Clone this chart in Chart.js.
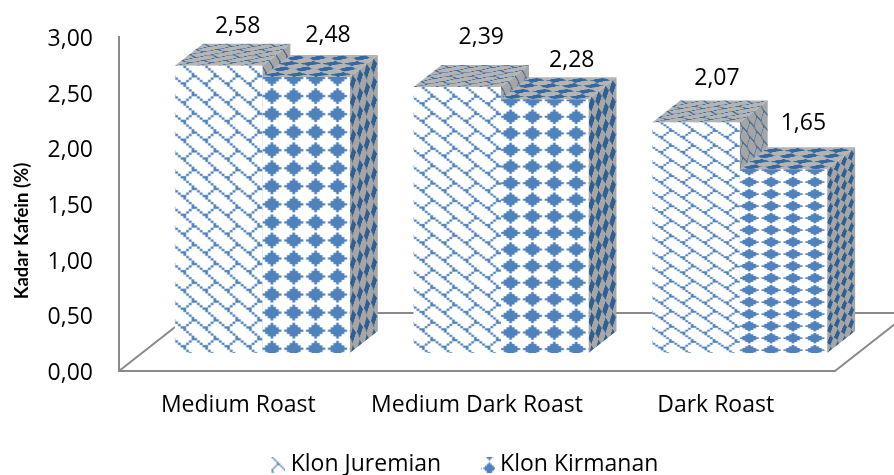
<!DOCTYPE html>
<html>
<head>
<meta charset="utf-8">
<style>
  html, body { margin: 0; padding: 0; background: #fff; }
  #wrap { width: 894px; height: 475px; }
</style>
<script src="https://cdn.jsdelivr.net/npm/chart.js@4"></script>
</head>
<body>
<div id="wrap"><canvas id="chart" width="894" height="475"></canvas></div>
<script>
const categories = ['Medium Roast', 'Medium Dark Roast', 'Dark Roast'];
const juremian = [2.58, 2.39, 2.07];
const kirmanan = [2.48, 2.28, 1.65];
const yTicks = [0, 0.5, 1, 1.5, 2, 2.5, 3];
const yTitle = 'Kadar Kafein (%)';

// 8x8 office fill patterns
const brickBits = [0x80, 0x40, 0x20, 0x10, 0x18, 0x24, 0x42, 0x81];
const diamondBits = [0x10, 0x38, 0x7c, 0xfe, 0x7c, 0x38, 0x10, 0x00];

// 3d look
const shiftX = 24, shiftY = -18;      // bars stand this far behind the front of the floor
const depthX = 28, depthY = -22;      // depth of a bar
const floorX = 74, floorY = -58;      // depth of the floor
const tilesWide = 4, tilesHigh = 15.3, tilesDeep = 4;
const phase = [[0.39, 0], [0, -0.375]]; // where the first tile starts on the front of a bar

const fontName = 'Open Sans';
const fontSize = 23;

// label nudges, from the top middle of each bar
const labelNudge = [
  [[43, -57], [48, -67], [45, -62]],
  [[46, -59], [51, -57], [44, -64]]
];

function makeTile(bits, fg, bg) {
  const k = 8;
  const size = 8 * k;
  const sheet = document.createElement('canvas');
  sheet.width = sheet.height = size * 3;
  const g = sheet.getContext('2d');
  g.fillStyle = bg;
  g.fillRect(0, 0, size * 3, size * 3);
  g.fillStyle = fg;
  for (let ox = 0; ox < 3; ox++) {
    for (let oy = 0; oy < 3; oy++) {
      bits.forEach((row, y) => {
        for (let x = 0; x < 8; x++) {
          if (row & (0x80 >> x)) g.fillRect(ox * size + x * k, oy * size + y * k, k, k);
        }
      });
    }
  }
  // soften it a little, then keep the middle tile
  const c = document.createElement('canvas');
  c.width = c.height = size;
  const b = c.getContext('2d');
  b.filter = 'blur(1.5px)';
  b.drawImage(sheet, -size, -size);
  return c;
}

const canvas = document.getElementById('chart');
const ctx = canvas.getContext('2d');

const tiles = [
  {
    front: makeTile(brickBits, '#4f81bd', '#ffffff'),
    top: makeTile(brickBits, '#3f6c9e', '#b4b4b4'),
    side: makeTile(brickBits, '#3f6a99', '#a6a6a6')
  },
  {
    front: makeTile(diamondBits, '#4f81bd', '#ffffff'),
    top: makeTile(diamondBits, '#35689f', '#b4b4b4'),
    side: makeTile(diamondBits, '#2f5f92', '#a6a6a6')
  }
];

function patternFrom(tile, a, b, c, d, e, f, target) {
  const p = (target || ctx).createPattern(tile, 'repeat');
  const s = 1 / tile.width;
  p.setTransform(new DOMMatrix([a * s, b * s, c * s, d * s, e, f]));
  return p;
}

function frontPattern(context) {
  const chart = context.chart;
  const x = chart.scales.x, y = chart.scales.y;
  const ds = context.datasetIndex, i = context.dataIndex;
  const value = context.dataset.data[i];
  const bw = x.width / categories.length * 0.733 / 2;
  const left = x.getPixelForValue(i) + (ds - 1) * bw;
  const top = y.getPixelForValue(value);
  const h = y.getPixelForValue(0) - top;
  const tw = bw / tilesWide, th = h / tilesHigh;
  return patternFrom(tiles[ds].front, tw, 0, 0, th, left + phase[ds][0] * tw, top + phase[ds][1] * th);
}

function fillPoly(c, pts) {
  c.beginPath();
  pts.forEach((p, i) => i ? c.lineTo(p[0], p[1]) : c.moveTo(p[0], p[1]));
  c.closePath();
  c.fill();
}

const bar3d = {
  id: 'bar3d',
  afterLayout(chart) {
    // legend sits lower than its big item padding would put it
    chart.legend.top = 413;
    chart.legend.left += 95;
  },
  beforeDraw(chart) {
    // floor, behind everything
    const c = chart.ctx, a = chart.chartArea;
    c.save();
    c.strokeStyle = '#8a8a8a';
    c.lineWidth = 2;
    c.beginPath();
    c.moveTo(a.left, a.bottom);
    c.lineTo(a.left + floorX, a.bottom + floorY);
    c.lineTo(a.right + floorX, a.bottom + floorY);
    c.lineTo(a.right, a.bottom);
    c.stroke();
    c.restore();
  },
  beforeDatasetsDraw(chart) {
    const c = chart.ctx;
    c.save();
    c.translate(shiftX, shiftY);
    // sides and tops first, left series then right series
    const base = chart.scales.y.getPixelForValue(0);
    chart.data.datasets.forEach((ds, d) => {
      chart.getDatasetMeta(d).data.forEach(el => {
        const l = el.x - el.width / 2, r = el.x + el.width / 2, t = el.y;
        const h = base - t;
        c.fillStyle = patternFrom(tiles[d].side, depthX / tilesDeep, depthY / tilesDeep, 0, h / tilesHigh, r, t);
        fillPoly(c, [[r, t], [r + depthX, t + depthY], [r + depthX, base + depthY], [r, base]]);
        c.fillStyle = patternFrom(tiles[d].top, el.width / tilesWide, 0, depthX / tilesDeep, depthY / tilesDeep, l, t);
        fillPoly(c, [[l, t], [r, t], [r + depthX, t + depthY], [l + depthX, t + depthY]]);
      });
    });
  },
  afterDatasetsDraw(chart) {
    const c = chart.ctx;
    c.restore();
    c.save();
    c.fillStyle = '#000';
    c.font = fontSize + 'px "' + fontName + '"';
    c.textAlign = 'center';
    c.textBaseline = 'middle';
    chart.data.datasets.forEach((ds, d) => {
      chart.getDatasetMeta(d).data.forEach((el, i) => {
        const n = labelNudge[d][i];
        c.fillText(ds.data[i].toFixed(2).replace('.', ','), el.x + n[0], el.y + n[1]);
      });
    });
    // axis title sits below the middle of the axis
    c.font = 'bold 18.5px Lato';
    c.translate(22, 231);
    c.rotate(-Math.PI / 2);
    c.fillText(yTitle, 0, 0);
    c.restore();
  }
};

// legend swatch, with empty room on the left so it lands next to the text
function legendIcon(tile, ox, oy) {
  const c = document.createElement('canvas');
  c.width = 20;
  c.height = 16;
  const g = c.getContext('2d');
  g.fillStyle = patternFrom(tile, 14, 0, 0, 14, 6 + ox, oy, g);
  g.fillRect(6, 0, 14, 16);
  return c;
}

new Chart(canvas, {
  type: 'bar',
  plugins: [bar3d],
  data: {
    labels: categories,
    datasets: [
      { label: 'Klon Juremian', data: juremian, backgroundColor: frontPattern },
      { label: 'Klon Kirmanan', data: kirmanan, backgroundColor: frontPattern }
    ]
  },
  options: {
    responsive: false,
    animation: false,
    events: [],
    layout: { padding: { top: 37, right: 59, bottom: 0, left: 0 } },
    datasets: { bar: { barPercentage: 1, categoryPercentage: 0.733, clip: false } },
    scales: {
      x: {
        grid: { display: false, drawTicks: false },
        border: { color: '#8a8a8a', width: 2 },
        ticks: { color: '#000', font: { family: fontName, size: fontSize }, padding: 21, maxRotation: 0 },
        afterFit(s) { s.height = 64; }
      },
      y: {
        min: 0,
        max: 3,
        afterBuildTicks(s) { s.ticks = yTicks.map(v => ({ value: v })); },
        grid: { display: false, drawTicks: false },
        border: { color: '#8a8a8a', width: 2 },
        ticks: {
          color: '#000',
          font: { family: fontName, size: fontSize },
          padding: 26,
          labelOffset: 2.5,
          callback: v => v.toFixed(2).replace('.', ',')
        },
        afterFit(s) {
          s.width = 119;
          s.paddingTop = 0;
          s.paddingBottom = 0;
        }
      }
    },
    plugins: {
      legend: {
        position: 'bottom',
        maxHeight: 40,
        labels: {
          color: '#000',
          font: { family: fontName, size: fontSize },
          usePointStyle: true,
          boxHeight: 14,
          boxWidth: 7.5,
          padding: 40,
          generateLabels(chart) {
            const items = Chart.defaults.plugins.legend.labels.generateLabels(chart);
            items[0].pointStyle = legendIcon(tiles[0].front, 0, 0);
            items[1].pointStyle = legendIcon(tiles[1].front, 2.4, 5.75);
            return items;
          }
        }
      },
      tooltip: { enabled: false }
    }
  }
});
</script>
</body>
</html>
